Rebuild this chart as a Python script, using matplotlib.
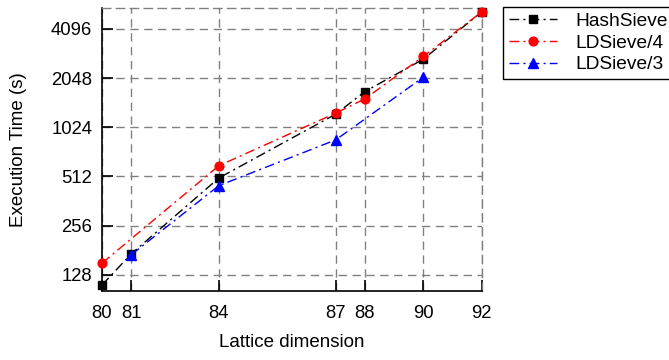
import matplotlib
matplotlib.use("Agg")
import matplotlib.pyplot as plt

plt.rcParams['font.family'] = ['Liberation Sans', 'DejaVu Sans']

# tick labels and their positions on the axis
x_ticklabels = ['80', '81', '84', '87', '88', '90', '92']
x_positions = [80, 81, 84, 88, 89, 91, 93]

# series (positions on the axis, execution time in seconds)
hash_x = [80, 81, 84, 88, 89, 91, 93]
hash_y = [111, 172, 501, 1232, 1694, 2672, 5200]

ld4_x = [80, 84, 88, 89, 91, 93]
ld4_y = [151, 596, 1250, 1528, 2780, 5200]

ld3_x = [81, 84, 88, 91]
ld3_y = [170, 450, 857, 2073]

y_ticks = [128, 256, 512, 1024, 2048, 4096]

fig = plt.figure(figsize=(6.69, 3.6), dpi=100)
ax = fig.add_axes([0.1525, 0.1917, 0.5675, 0.7861])

ls = (0, (7, 3, 1.5, 3))
ax.plot(hash_x, hash_y, color='black', linestyle=ls, lw=1, marker='s', ms=5.5, label='HashSieve', zorder=3, clip_on=False)
ax.plot(ld4_x, ld4_y, color='red', linestyle=ls, lw=1, marker='o', ms=6.3, label='LDSieve/4', zorder=3, clip_on=False)
ax.plot(ld3_x, ld3_y, color='blue', linestyle=ls, lw=1, marker='^', ms=7, label='LDSieve/3', zorder=3, clip_on=False)

ax.set_yscale('log', base=2)
ax.set_ylim(102, 5500)
ax.set_xlim(80, 93)
ax.set_yticks(y_ticks)
ax.set_yticklabels([str(v) for v in y_ticks])
ax.minorticks_off()
ax.set_xticks(x_positions)
ax.set_xticklabels(x_ticklabels)

ax.grid(True, color='#808080', linestyle=(0, (6, 4)), linewidth=1)
ax.set_axisbelow(True)
for s in ['top', 'right']:
    ax.spines[s].set_color('#808080')
    ax.spines[s].set_linestyle((0, (6, 4)))
    ax.spines[s].set_linewidth(1)
for s in ['left', 'bottom']:
    ax.spines[s].set_linewidth(1.2)

ax.tick_params(axis='both', direction='in', length=8, width=1.2, labelsize=13.3)
ax.tick_params(axis='x', pad=10)
ax.tick_params(axis='y', pad=7)

ax.set_xlabel('Lattice dimension', fontsize=13.5, labelpad=9)
ax.set_ylabel('Execution Time (s)', fontsize=13.5, labelpad=17)

leg = ax.legend(loc='upper left', bbox_to_anchor=(503/669, 1-7/360), bbox_transform=fig.transFigure,
                fontsize=13.8, frameon=True, fancybox=False, edgecolor='black', framealpha=1,
                handlelength=2.5, handletextpad=1.0, borderpad=0.3, labelspacing=0.22, borderaxespad=0)
leg.get_frame().set_linewidth(1)

fig.savefig('out.png', dpi=100)
